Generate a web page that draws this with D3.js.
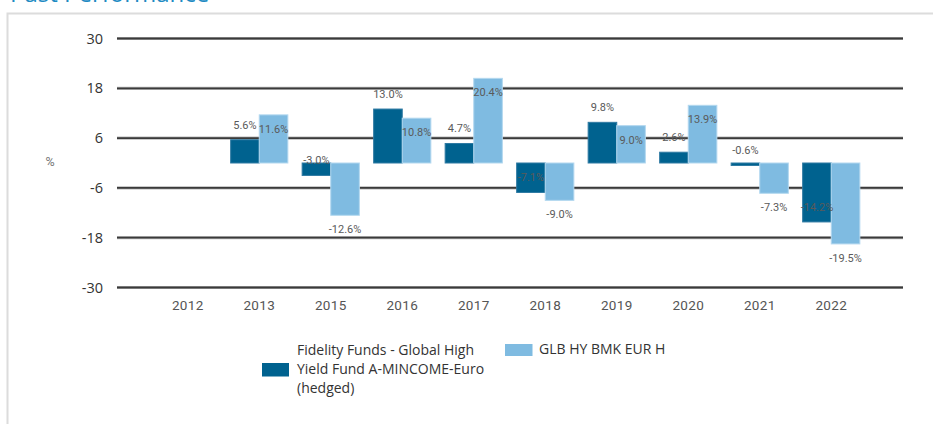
<!DOCTYPE html>
<html>
<head>
<meta charset="utf-8">
<script src="https://cdn.jsdelivr.net/npm/d3@7"></script>
<style>
  body { margin: 0; background: #fff; }
  svg { display: block; }
</style>
</head>
<body>
<svg id="chart" width="933" height="424"></svg>
<script>
// data
const years = ["2012", "2013", "2015", "2016", "2017", "2018", "2019", "2020", "2021", "2022"];
const fundValues = [null, 5.6, -3.0, 13.0, 4.7, -7.1, 9.8, 2.6, -0.6, -14.2];
const benchValues = [null, 11.6, -12.6, 10.8, 20.4, -9.0, 9.0, 13.9, -7.3, -19.5];
const yTicks = [30, 18, 6, -6, -18, -30];
const seriesNames = ["Fidelity Funds - Global High Yield Fund A-MINCOME-Euro (hedged)", "GLB HY BMK EUR H"];

const darkBlue = "#00628f",
      lightBlue = "#7fbbe1";

var svg = d3.select("#chart");

// panel frame + title (cut off by the top edge, like the source)
svg.append("text")
    .attr("x", 10).attr("y", 2)
    .attr("fill", "#1e8bc3")
    .style("font", "24px 'Open Sans', sans-serif")
    .text("Past Performance");
svg.append("path")
    .attr("d", "M7.5,424 V13.5 H933")
    .attr("fill", "none")
    .attr("stroke", "#dcdcdc")
    .attr("stroke-width", 2);

var x = d3.scaleBand()
    .domain(years)
    .range([152, 867]);

var inner = d3.scaleBand()
    .domain(["fund", "bench"])
    .range([0, x.bandwidth()])
    .paddingInner(0)
    .paddingOuter(0.25);

var y = d3.scaleLinear()
    .domain([-30, 30])
    .range([287.5, 38.5]);

// gridlines
var grid = svg.append("g");
grid.selectAll("line.halo")
    .data(yTicks)
    .join("line")
    .attr("x1", 117).attr("x2", 903)
    .attr("y1", d => y(d)).attr("y2", d => y(d))
    .attr("stroke", "#b8b8b8")
    .attr("stroke-width", 3.2);
grid.selectAll("line.main")
    .data(yTicks)
    .join("line")
    .attr("x1", 117).attr("x2", 903)
    .attr("y1", d => y(d)).attr("y2", d => y(d))
    .attr("stroke", "#3a3a3a")
    .attr("stroke-width", 1.8);

// y tick labels
svg.append("g")
    .selectAll("text")
    .data(yTicks)
    .join("text")
    .attr("x", 103)
    .attr("y", d => y(d))
    .attr("dy", "0.35em")
    .attr("text-anchor", "end")
    .attr("fill", "#333")
    .style("font", "14.5px 'Open Sans', sans-serif")
    .text(d => d);

svg.append("text")
    .attr("x", 50).attr("y", y(0) - 1)
    .attr("dy", "0.35em")
    .attr("text-anchor", "middle")
    .attr("fill", "#777")
    .style("font", "12.5px Roboto, sans-serif")
    .text("%");

// x labels
svg.append("g")
    .selectAll("text")
    .data(years)
    .join("text")
    .attr("x", d => x(d) + x.bandwidth() / 2)
    .attr("y", 305)
    .attr("dy", "0.35em")
    .attr("text-anchor", "middle")
    .attr("fill", "#555")
    .style("font", "13.5px Roboto, sans-serif")
    .style("letter-spacing", "0.3px")
    .text(d => d);

// bars
var rows = years.map((yr, i) => ({ year: yr, fund: fundValues[i], bench: benchValues[i] }));

var barsArea = svg.append("g");

function drawSeries(key, fill, stroke) {
    var pts = rows.filter(d => d[key] != null);
    barsArea.append("g")
        .selectAll("rect")
        .data(pts)
        .join("rect")
        .attr("x", d => x(d.year) + inner(key))
        .attr("width", inner.bandwidth())
        .attr("y", d => Math.min(y(0), y(d[key])))
        .attr("height", d => Math.abs(y(d[key]) - y(0)))
        .attr("fill", fill)
        .attr("stroke", stroke)
        .attr("stroke-width", 1);
}
drawSeries("fund", darkBlue, "#2f7aa3");
drawSeries("bench", lightBlue, "#b3d8ef");

// value labels: fund above the bar end, benchmark just past it
var lbl = svg.append("g")
    .attr("fill", "#5a5a5a")
    .style("font", "11px Roboto, sans-serif")
    .attr("text-anchor", "middle");

lbl.selectAll("text.f")
    .data(rows.filter(d => d.fund != null))
    .join("text")
    .attr("x", d => x(d.year) + inner("fund") + inner.bandwidth() / 2)
    .attr("y", d => y(d.fund) - 15)
    .attr("dy", "0.35em")
    .text(d => d.fund.toFixed(1) + "%");

lbl.selectAll("text.b")
    .data(rows.filter(d => d.bench != null))
    .join("text")
    .attr("x", d => x(d.year) + inner("bench") + inner.bandwidth() / 2)
    .attr("y", d => y(d.bench) + 14)
    .attr("dy", "0.35em")
    .text(d => d.bench.toFixed(1) + "%");

// legend
var legend = svg.append("g")
    .style("font", "14px 'Open Sans', sans-serif")
    .attr("fill", "#333");

legend.append("rect")
    .attr("x", 262).attr("y", 363)
    .attr("width", 27).attr("height", 13.5)
    .attr("fill", darkBlue);

legend.append("text")
    .attr("x", 297)
    .selectAll("tspan")
    .data(["Fidelity Funds - Global High", "Yield Fund A-MINCOME-Euro", "(hedged)"])
    .join("tspan")
    .attr("x", 297)
    .attr("y", (d, i) => 350 + i * 19)
    .attr("dy", "0.35em")
    .text(d => d);

legend.append("rect")
    .attr("x", 505).attr("y", 344)
    .attr("width", 27.5).attr("height", 12)
    .attr("fill", lightBlue);

legend.append("text")
    .attr("x", 539).attr("y", 349.5)
    .attr("dy", "0.35em")
    .text(seriesNames[1]);
</script>
</body>
</html>
